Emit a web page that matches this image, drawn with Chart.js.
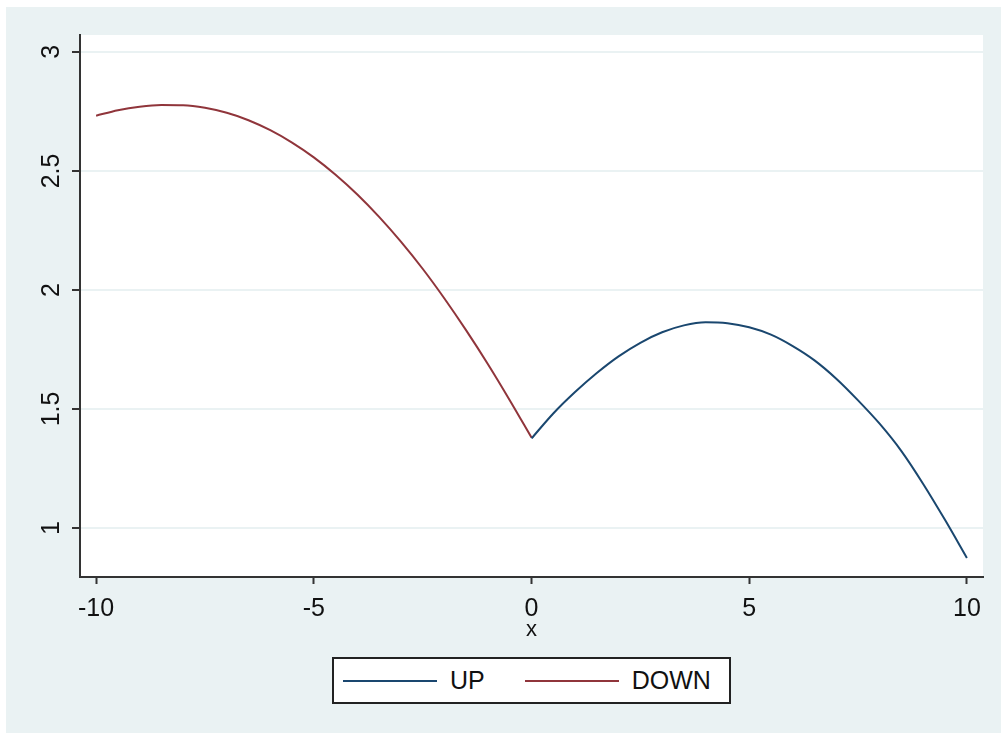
<!DOCTYPE html>
<html lang="en">
<head>
  <meta charset="UTF-8" />
  <title>UP / DOWN</title>
  <style>
    html, body { margin: 0; padding: 0; background: #fff; }
    .wrap { position: relative; width: 1001px; height: 733px; }
    #chart { position: absolute; left: 0; top: 0; }
    .legend {
      position: absolute; left: 332px; top: 657px;
      width: 399px; height: 47px; box-sizing: border-box;
      border: 2px solid #222; background: #fff;
      display: flex; align-items: center; padding-left: 9px;
      font-family: "Liberation Sans", Arial, sans-serif; font-size: 25px; color: #111;
    }
    .legend .item { display: flex; align-items: center; }
    .legend .item + .item { margin-left: 40px; }
    .legend .swatch { width: 94px; height: 2px; margin-right: 13px; }
  </style>
</head>
<body>
  <div class="wrap">
    <canvas id="chart" width="1001" height="733"></canvas>
    <div class="legend" id="legend"></div>
  </div>

  <script src="https://cdn.jsdelivr.net/npm/chart.js"></script>
  <script>
    // values
    const upX = [0, 0.5, 1, 1.5, 2, 2.5, 3, 3.5, 4, 4.5, 5, 5.5, 6, 6.5, 7, 7.5, 8, 8.5, 9, 9.5, 10];
    const upY = [1.376, 1.481, 1.571, 1.651, 1.721, 1.778, 1.822, 1.851, 1.864, 1.860, 1.843, 1.812, 1.764, 1.704, 1.627, 1.536, 1.437, 1.322, 1.184, 1.033, 0.874];
    const downX = [-10, -9.5, -9, -8.5, -8, -7.5, -7, -6.5, -6, -5.5, -5, -4.5, -4, -3.5, -3, -2.5, -2, -1.5, -1, -0.5, 0];
    const downY = [2.732, 2.755, 2.770, 2.777, 2.776, 2.765, 2.744, 2.713, 2.671, 2.619, 2.557, 2.484, 2.401, 2.307, 2.203, 2.089, 1.964, 1.830, 1.688, 1.537, 1.380];
    const xTicks = [-10, -5, 0, 5, 10];
    const yTicks = [1, 1.5, 2, 2.5, 3];

    const FONT = '"Liberation Sans", Arial, sans-serif';
    const toPoints = (xs, ys) => xs.map((x, i) => ({ x: x, y: ys[i] }));

    // light blue outer region + white plot region
    const background = {
      id: 'background',
      beforeDraw(chart) {
        const { ctx, chartArea: a } = chart;
        ctx.save();
        ctx.fillStyle = '#fff';
        ctx.fillRect(0, 0, chart.width, chart.height);
        ctx.fillStyle = '#eaf2f3';
        ctx.fillRect(6, 7, chart.width - 6, chart.height - 7);
        ctx.fillStyle = '#fff';
        ctx.fillRect(a.left, a.top, a.right - a.left, a.bottom - a.top);
        ctx.restore();
      }
    };

    const chart = new Chart(document.getElementById('chart'), {
      type: 'line',
      data: {
        datasets: [
          {
            label: 'UP',
            data: toPoints(upX, upY),
            borderColor: '#1a476f',
            backgroundColor: '#1a476f',
            borderWidth: 2,
            pointRadius: 0,
            cubicInterpolationMode: 'monotone'
          },
          {
            label: 'DOWN',
            data: toPoints(downX, downY),
            borderColor: '#90353b',
            backgroundColor: '#90353b',
            borderWidth: 2,
            pointRadius: 0,
            cubicInterpolationMode: 'monotone'
          }
        ]
      },
      options: {
        responsive: false,
        animation: false,
        devicePixelRatio: 1,
        layout: { padding: { left: 0, top: 35, right: 18, bottom: 86 } },
        plugins: {
          legend: { display: false },
          tooltip: { enabled: false }
        },
        scales: {
          x: {
            type: 'linear',
            min: -10.37,
            max: 10.37,
            afterBuildTicks: s => { s.ticks = xTicks.map(v => ({ value: v })); },
            afterFit: s => { s.height = 70; },
            ticks: {
              font: { family: FONT, size: 25 },
              color: '#111',
              padding: 10,
              maxRotation: 0,
              autoSkip: false,
              callback: v => String(v)
            },
            grid: { drawOnChartArea: false, tickLength: 7, tickColor: '#333', tickWidth: 2 },
            border: { color: '#333', width: 2 },
            title: {
              display: true,
              text: 'x',
              font: { family: FONT, size: 22 },
              color: '#111',
              padding: { top: 0, bottom: 4 }
            }
          },
          y: {
            type: 'linear',
            min: 0.794,
            max: 3.071,
            afterBuildTicks: s => { s.ticks = yTicks.map(v => ({ value: v })); },
            afterFit: s => { s.width = 80; },
            ticks: {
              font: { family: FONT, size: 25 },
              color: '#111',
              minRotation: 90,
              maxRotation: 90,
              crossAlign: 'center',
              padding: 3,
              autoSkip: false,
              callback: v => String(v)
            },
            grid: { color: '#eaf2f3', lineWidth: 2, tickLength: 8, tickColor: '#333', tickWidth: 2 },
            border: { color: '#333', width: 2 }
          }
        }
      },
      plugins: [background]
    });

    // legend box built from the datasets
    const legend = document.getElementById('legend');
    chart.data.datasets.forEach(ds => {
      const item = document.createElement('div');
      item.className = 'item';
      const sw = document.createElement('span');
      sw.className = 'swatch';
      sw.style.background = ds.borderColor;
      const txt = document.createElement('span');
      txt.textContent = ds.label;
      item.appendChild(sw);
      item.appendChild(txt);
      legend.appendChild(item);
    });
  </script>
</body>
</html>
